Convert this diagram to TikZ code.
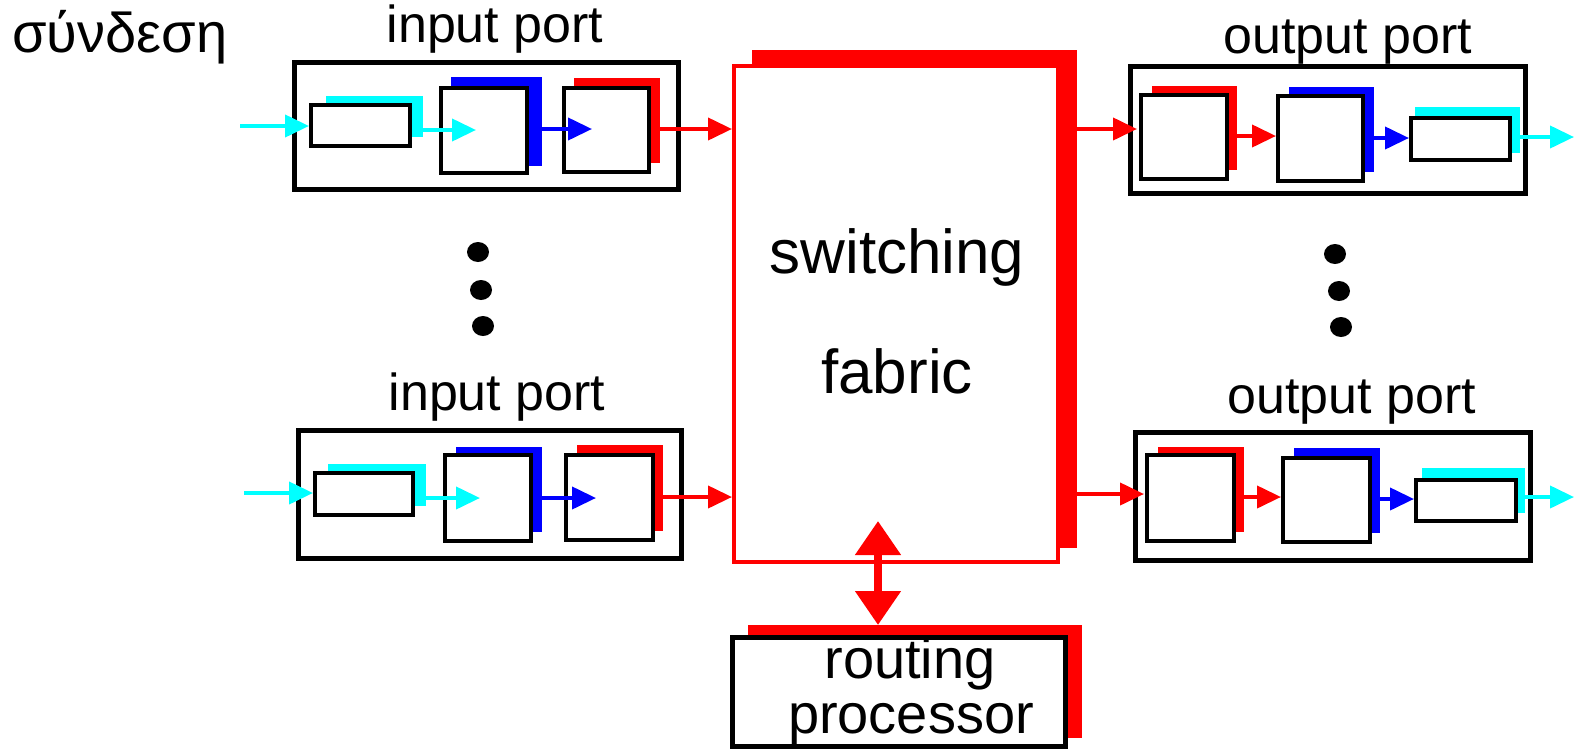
\documentclass[tikz,border=0pt]{standalone}
\usepackage{fontspec}
\setmainfont{Liberation Sans}
\usetikzlibrary{arrows.meta}
\definecolor{cy}{RGB}{0,255,255}
\definecolor{bl}{RGB}{0,0,255}
\definecolor{rd}{RGB}{255,0,0}
\tikzset{
  portbox/.style={draw=black, line width=5pt, inner sep=0pt},
  blk/.style={draw=black, line width=4pt, fill=white, inner sep=0pt},
  shade/.style={inner sep=0pt, outer sep=0pt, draw=none},
  carr/.style={cy, line width=4pt, -{Triangle[length=24pt,width=22pt]}},
  barr/.style={bl, line width=4pt, -{Triangle[length=24pt,width=22pt]}},
  rarr/.style={rd, line width=4pt, -{Triangle[length=24pt,width=22pt]}},
  dblarr/.style={rd, line width=8pt, {Triangle[length=34pt,width=44pt]}-{Triangle[length=34pt,width=44pt]}},
  lbl/.style={inner sep=0pt, anchor=base, font=\fontsize{52pt}{60pt}\selectfont},
  big/.style={inner sep=0pt, anchor=base, font=\fontsize{62pt}{70pt}\selectfont},
  mid/.style={inner sep=0pt, anchor=base, font=\fontsize{56pt}{64pt}\selectfont},
}
\begin{document}
\begin{tikzpicture}[x=1pt,y=-1pt]
\useasboundingbox (0,0) rectangle (1574,750);

% ---- switching fabric ----
\node[shade, fill=rd, minimum width=325pt, minimum height=498pt] (fabsh) at (914.5,299) {};
\node[draw=rd, line width=4pt, fill=white, inner sep=0pt, minimum width=324pt, minimum height=496pt] (fab) at (896,314) {};
\node[big] (tsw) at (897,273) {switching};
\node[big] (tfa) at (897,393) {fabric};

% ---- routing processor ----
\node[shade, fill=rd, minimum width=334pt, minimum height=113pt] (rpsh) at (915,681.5) {};
\node[portbox, fill=white, minimum width=333pt, minimum height=109pt] (rp) at (899,692) {};
\node[mid] (trt) at (910,678) {routing};
\node[mid] (tpr) at (911,733) {processor};

% ---- input port 1 ----
\node[portbox, minimum width=384pt, minimum height=127pt] (ip1) at (486.5,126) {};
\fill[cy] (326,96) rectangle (423,137);
\node[blk, minimum width=99pt, minimum height=41pt] (q1) at (360.5,125.5) {};
\fill[bl] (451,77) rectangle (542,166);
\node[blk, minimum width=86pt, minimum height=85pt] (a1) at (484,130.5) {};
\fill[rd] (574,78) rectangle (660,163);
\node[blk, minimum width=85pt, minimum height=84pt] (b1) at (606.5,130) {};

% ---- input port 2 ----
\node[portbox, minimum width=383pt, minimum height=128pt] (ip2) at (490,494.5) {};
\fill[cy] (328,464) rectangle (426,506);
\node[blk, minimum width=98pt, minimum height=42pt] (q3) at (364,494) {};
\fill[bl] (456,447) rectangle (542,532);
\node[blk, minimum width=86pt, minimum height=86pt] (a2) at (488,498) {};
\fill[rd] (577,445) rectangle (663,531);
\node[blk, minimum width=87pt, minimum height=85pt] (b2) at (609.5,497.5) {};

% ---- output port 1 ----
\node[portbox, minimum width=395pt, minimum height=127pt] (op1) at (1328,130) {};
\fill[rd] (1152,86) rectangle (1237,170);
\node[blk, minimum width=86pt, minimum height=84pt] (c1) at (1184,137) {};
\fill[bl] (1289,87) rectangle (1374,172);
\node[blk, minimum width=85pt, minimum height=85pt] (d1) at (1320.5,138.5) {};
\fill[cy] (1415,107) rectangle (1520,153);
\node[blk, minimum width=99pt, minimum height=42pt] (q2) at (1460.5,139) {};

% ---- output port 2 ----
\node[portbox, minimum width=395pt, minimum height=128pt] (op2) at (1333,496.5) {};
\fill[rd] (1158,447) rectangle (1244,532);
\node[blk, minimum width=87pt, minimum height=86pt] (c2) at (1190.5,498) {};
\fill[bl] (1294,448) rectangle (1380,533);
\node[blk, minimum width=87pt, minimum height=84pt] (d2) at (1326.5,500) {};
\fill[cy] (1422,468) rectangle (1525,513);
\node[blk, minimum width=100pt, minimum height=41pt] (q4) at (1466,500.5) {};

% ---- coordinates for free ends ----
\coordinate (in1) at (240,126);
\coordinate (t1a) at (476,130);
\coordinate (t1b) at (592,129);
\coordinate (in2) at (244,493);
\coordinate (t2a) at (480,498);
\coordinate (t2b) at (596,498);
\coordinate (o1) at (1137,129);
\coordinate (o2) at (1144,494);
\coordinate (out1) at (1574,137);
\coordinate (out2) at (1574,497);
\coordinate (dtop) at (878,521);

% ---- arrows, input side ----
\draw[carr] (in1) -- (in1 -| q1.west);
\draw[carr] (q1.east |- t1a) -- (t1a);
\draw[barr] (a1.east |- t1b) -- (t1b);
\draw[rarr] (b1.east |- t1b) -- (fab.west |- t1b);
\draw[carr] (in2) -- (in2 -| q3.west);
\draw[carr] (q3.east |- t2a) -- (t2a);
\draw[barr] (a2.east |- t2b) -- (t2b);
\draw[rarr] (b2.east |- 0,497) -- (fab.west |- 0,497);

% ---- arrows, output side ----
\draw[rarr] (fabsh.east |- o1) -- (o1);
\draw[rarr] (c1.east |- 0,136) -- (d1.west |- 0,136);
\draw[barr] (d1.east |- 0,138) -- (q2.west |- 0,138);
\draw[carr] (q2.east |- out1) -- (out1);
\draw[rarr] (fabsh.east |- o2) -- (o2);
\draw[rarr] (c2.east |- 0,497) -- (d2.west |- 0,497);
\draw[barr] (d2.east |- 0,499) -- (q4.west |- 0,499);
\draw[carr] (q4.east |- out2) -- (out2);

% ---- fabric <-> routing processor ----
\draw[dblarr] (dtop) -- (dtop |- rpsh.north);

% ---- labels ----
\node[inner sep=0pt, anchor=base west, font=\fontsize{56pt}{64pt}\selectfont] (lsyn) at (12,52) {σύνδεση};
\node[lbl] (lip1) at (495,42) {input port};
\node[lbl] (lip2) at (497,410) {input port};
\node[lbl] (lop1) at (1348,53) {output port};
\node[lbl] (lop2) at (1352,413) {output port};

% ---- dots ----
\fill (478,252) ellipse (11 and 10);
\fill (481,290) ellipse (11 and 10);
\fill (483,326) ellipse (11 and 10);
\fill (1335,254) ellipse (11 and 10);
\fill (1339,291) ellipse (11 and 10);
\fill (1341,327) ellipse (11 and 10);
\end{tikzpicture}
\end{document}
